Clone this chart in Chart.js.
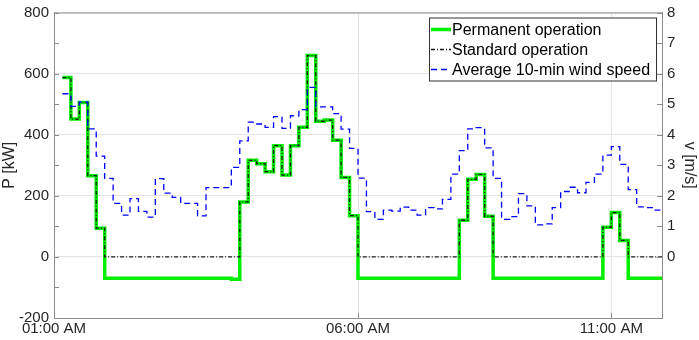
<!DOCTYPE html>
<html>
<head>
<meta charset="utf-8">
<script src="https://cdn.jsdelivr.net/npm/chart.js@4.4.0/dist/chart.umd.min.js"></script>
<style>
  html, body { margin: 0; padding: 0; background: #fff; }
  canvas { display: block; }
</style>
</head>
<body>
<canvas id="windChart" width="699" height="340"></canvas>
<script>
// x ticks (hours from the left edge of the axis) and their labels
const xTickHours = [0, 6, 11];
const xTickLabels = ['01:00 AM', '06:00 AM', '11:00 AM'];

// 10-min slots, data starts at slot 1
const firstSlot = 1;

// P [kW], one value per 10-min slot
const permanentPower = [
  587, 451, 505, 266, 94,
  -70, -70, -70, -70, -70, -70, -70, -70, -70, -70, -70, -70, -70, -70, -70, -73,
  180, 316, 305, 279, 364, 268, 364, 424, 659, 444, 448, 382, 260, 135,
  -70, -70, -70, -70, -70, -70, -70, -70, -70, -70, -70, -70,
  120, 254, 270, 133,
  -70, -70, -70, -70, -70, -70, -70, -70, -70, -70, -70, -70, -70,
  97, 145, 54,
  -70, -70, -70, -70
];
const standardPower = [
  587, 451, 505, 266, 94,
  0, 0, 0, 0, 0, 0, 0, 0, 0, 0, 0, 0, 0, 0, 0, 0,
  180, 316, 305, 279, 364, 268, 364, 424, 659, 444, 448, 382, 260, 135,
  0, 0, 0, 0, 0, 0, 0, 0, 0, 0, 0, 0,
  120, 254, 270, 133,
  0, 0, 0, 0, 0, 0, 0, 0, 0, 0, 0, 0, 0,
  97, 145, 54,
  0, 0, 0, 0
];
// v [m/s]
const windSpeed = [
  5.34, 4.93, 5.07, 4.19, 3.30, 2.57, 1.75, 1.37, 1.91, 1.49,
  1.30, 2.56, 2.09, 1.95, 1.75, 1.75, 1.34, 2.27, 2.27, 2.27,
  2.93, 3.80, 4.41, 4.35, 4.24, 4.59, 4.21, 4.62, 4.82, 5.55,
  4.91, 4.91, 4.69, 4.18, 3.55, 2.58, 1.48, 1.23, 1.53, 1.50,
  1.63, 1.53, 1.37, 1.61, 1.57, 1.88, 2.71, 3.48, 4.19, 4.23,
  3.57, 2.57, 1.23, 1.32, 2.07, 1.67, 1.05, 1.08, 1.61, 2.14,
  2.28, 2.10, 2.44, 2.71, 3.33, 3.61, 3.03, 2.20, 1.64, 1.61,
  1.53
];

const FONT = "'Liberation Sans', Arial, Helvetica, sans-serif";
const TEXT = '#262626';
const AXIS = '#8c8c8c';
const GRID = '#e4e4e4';

// step points: each value holds for one slot, extra point closes the last slot
const toSteps = values => values.map((v, i) => ({ x: (firstSlot + i) / 6, y: v }))
  .concat([{ x: (firstSlot + values.length) / 6, y: values[values.length - 1] }]);

// inward tick marks + top frame line (matlab style)
const frameTicks = {
  id: 'frameTicks',
  afterDatasetsDraw(chart) {
    const { ctx, chartArea: a, scales } = chart;
    ctx.save();
    ctx.strokeStyle = AXIS;
    ctx.lineWidth = 1;
    ctx.beginPath();
    ctx.moveTo(a.left, a.top + 0.5);
    ctx.lineTo(a.right, a.top + 0.5);
    for (let v = -200; v <= 800; v += 100) {
      const y = Math.round(scales.y.getPixelForValue(v)) + 0.5;
      ctx.moveTo(a.left, y);
      ctx.lineTo(a.left + 5, y);
    }
    for (let v = 0; v <= 8; v++) {
      const y = Math.round(scales.y2.getPixelForValue(v)) + 0.5;
      ctx.moveTo(a.right, y);
      ctx.lineTo(a.right - 5, y);
    }
    xTickHours.forEach(h => {
      const x = Math.round(scales.x.getPixelForValue(h)) + 0.5;
      ctx.moveTo(x, a.bottom);
      ctx.lineTo(x, a.bottom - 5);
    });
    ctx.stroke();
    ctx.restore();
  }
};

// legend box inside the top right corner
const boxLegend = {
  id: 'boxLegend',
  afterDraw(chart) {
    const { ctx, chartArea: a } = chart;
    const x0 = a.right - 233, y0 = a.top + 5, w = 227, h = 63;
    ctx.save();
    ctx.fillStyle = '#fff';
    ctx.fillRect(x0, y0, w, h);
    ctx.strokeStyle = '#333';
    ctx.lineWidth = 1;
    ctx.strokeRect(x0 + 0.5, y0 + 0.5, w, h);
    ctx.font = '16px ' + FONT;
    ctx.textBaseline = 'middle';
    chart.data.datasets.forEach((ds, i) => {
      const y = y0 + 12 + i * 20;
      ctx.beginPath();
      ctx.strokeStyle = ds.borderColor;
      ctx.lineWidth = ds.borderWidth;
      ctx.setLineDash(ds.borderDash || []);
      ctx.moveTo(x0 + 2, y);
      ctx.lineTo(x0 + 22, y);
      ctx.stroke();
      ctx.setLineDash([]);
      ctx.fillStyle = '#000';
      ctx.fillText(ds.label, x0 + 23, y + 1);
    });
    ctx.restore();
  }
};

new Chart(document.getElementById('windChart'), {
  type: 'line',
  data: {
    datasets: [
      {
        label: 'Permanent operation',
        data: toSteps(permanentPower),
        yAxisID: 'y',
        borderColor: '#00f000',
        borderWidth: 3.5,
        stepped: 'before',
        pointRadius: 0,
        order: 3
      },
      {
        label: 'Standard operation',
        data: toSteps(standardPower),
        yAxisID: 'y',
        borderColor: '#1a1a1a',
        borderWidth: 1.3,
        borderDash: [4, 2, 1, 2],
        stepped: 'before',
        pointRadius: 0,
        order: 2
      },
      {
        label: 'Average 10-min wind speed',
        data: toSteps(windSpeed),
        yAxisID: 'y2',
        borderColor: '#0000ff',
        borderWidth: 1.3,
        borderDash: [6, 4],
        stepped: 'before',
        pointRadius: 0,
        order: 1
      }
    ]
  },
  options: {
    responsive: false,
    animation: false,
    layout: { padding: { top: 7 } },
    plugins: {
      legend: { display: false },
      tooltip: { enabled: false }
    },
    scales: {
      x: {
        type: 'linear',
        min: 0,
        max: 12,
        afterBuildTicks: scale => { scale.ticks = xTickHours.map(v => ({ value: v })); },
        afterFit: scale => { scale.height = 22; },
        ticks: {
          autoSkip: false,
          maxRotation: 0,
          padding: 3,
          color: TEXT,
          font: { family: FONT, size: 15, lineHeight: 1 },
          callback: v => xTickLabels[xTickHours.indexOf(v)]
        },
        grid: { color: GRID, drawTicks: false },
        border: { color: AXIS }
      },
      y: {
        position: 'left',
        min: -200,
        max: 800,
        afterFit: scale => { scale.width = 54; },
        ticks: {
          stepSize: 200,
          padding: 5,
          color: TEXT,
          font: { family: FONT, size: 15, lineHeight: 1 }
        },
        grid: { color: GRID, drawTicks: false },
        border: { color: AXIS },
        title: {
          display: true,
          text: 'P [kW]',
          color: TEXT,
          padding: 0,
          font: { family: FONT, size: 16 }
        }
      },
      y2: {
        position: 'right',
        min: -2,
        max: 8,
        afterFit: scale => { scale.width = 37; },
        ticks: {
          stepSize: 1,
          padding: 5,
          color: TEXT,
          font: { family: FONT, size: 15, lineHeight: 1 },
          callback: v => (v >= 0 ? v : '')
        },
        grid: { display: false, drawTicks: false },
        border: { color: AXIS },
        title: {
          display: true,
          text: 'v [m/s]',
          color: TEXT,
          padding: 0,
          font: { family: FONT, size: 16 }
        }
      }
    }
  },
  plugins: [frameTicks, boxLegend]
});
</script>
</body>
</html>
